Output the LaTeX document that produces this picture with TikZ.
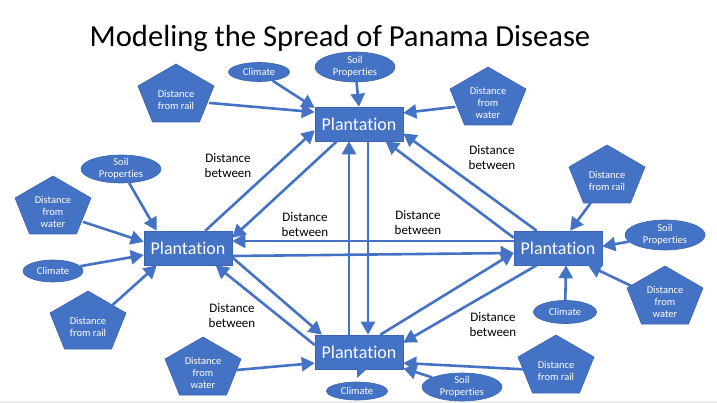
\documentclass[tikz,border=0pt]{standalone}
\usepackage{fontspec}
\setmainfont{Carlito}[Ligatures={NoCommon,NoContextual}]
\usetikzlibrary{arrows.meta,calc,shapes.geometric}
\definecolor{pblue}{HTML}{4472C4}
\definecolor{pedge}{HTML}{3A64B0}
\tikzset{
 plant/.style={rectangle, fill=pblue, draw=pedge, line width=0.6pt, minimum width=88pt, minimum height=34pt, inner sep=0pt, text=white, font=\fontsize{18}{20}\selectfont},
 oval/.style={ellipse, fill=pblue, draw=pedge, line width=0.6pt, inner sep=-1.5pt, text=white, align=center, font=\fontsize{10.5}{12}\selectfont},
 pentxt/.style={ellipse, minimum width=66pt, minimum height=46pt, inner sep=0pt, text=white, align=center, font=\fontsize{10.5}{12.3}\selectfont},
 pentfill/.style={fill=pblue, draw=pedge, line width=0.6pt},
 link/.style={draw=pblue, line width=2.6pt, -{Triangle[length=13pt,width=14pt]}},
 dist/.style={align=center, font=\fontsize{13}{15}\selectfont, text=black, inner sep=0pt},
}
\newcommand{\pentshape}[4]{%
  \path[pentfill] (#2,#3-29) -- (#2+38,#3-7) -- (#2+23.5,#3+29) -- (#2-23.5,#3+29) -- (#2-38,#3-7) -- cycle;
  \node[pentxt] (#1) at (#2,#3+7) {#4};
}
\begin{document}
\begin{tikzpicture}[x=1pt,y=-1pt]
\useasboundingbox (0,0) rectangle (717,403);
\fill[white] (0,0) rectangle (717,403);
\fill[gray!15] (0,400.5) rectangle (717,403);

\node[font=\fontsize{30.6}{36}\selectfont, anchor=base, inner sep=0pt] (title) at (340,47) {Modeling the Spread of Panama Disease};

% plantations
\node[plant] (PT) at (359,124) {Plantation};
\node[plant] (PL) at (188,248) {Plantation};
\node[plant] (PR) at (558,248) {Plantation};
\node[plant] (PB) at (359,352) {Plantation};
\path[fill=pblue] (357,368) -- (357,378) -- (368,368) -- cycle;

% top cluster
\node[oval, minimum width=61pt, minimum height=19pt] (climT) at (259,72) {Climate};
\node[oval, minimum width=80pt, minimum height=30pt] (soilT) at (355,67) {Soil\\Properties};
\pentshape{railT}{176}{93}{Distance\\from rail}
\pentshape{waterT}{488}{96}{Distance\\from\\water}

% left cluster
\node[oval, minimum width=80pt, minimum height=28pt] (soilL) at (121,169) {Soil\\Properties};
\pentshape{waterL}{53}{205}{Distance\\from\\water}
\node[oval, minimum width=60pt, minimum height=22pt] (climL) at (53,271) {Climate};
\pentshape{railL}{88}{320}{Distance\\from rail}

% right cluster
\pentshape{railR}{607}{174}{Distance\\from rail}
\node[oval, minimum width=80pt, minimum height=30pt] (soilR) at (665,235) {Soil\\Properties};
\pentshape{waterR}{665}{295}{Distance\\from\\water}
\node[oval, minimum width=63pt, minimum height=23pt] (climR) at (565,312) {Climate};

% bottom cluster
\pentshape{waterB}{203}{366}{Distance\\from\\water}
\node[oval, minimum width=61pt, minimum height=18pt] (climB) at (357,391) {Climate};
\node[oval, minimum width=80pt, minimum height=28pt] (soilB) at (462,387) {Soil\\Properties};
\pentshape{railB}{556}{364}{Distance\\from rail}

% factor arrows
\draw[link] (climT) -- (PT.160);
\draw[link] (railT) -- (PT.165);
\draw[link] (soilT) -- (PT.north);
\draw[link] (waterT) -- (PT.14);
\draw[link] (soilL) -- (PL.151);
\draw[link] (waterL) -- (PL.172);
\draw[link] (climL) -- (PL.189);
\draw[link] (railL) -- (PL.209);
\draw[link] (railR) -- (PR.55);
\draw[link] (soilR) -- (PR.2);
\draw[link] (waterR) -- (PR.330);
\draw[link] (climR) -- (PR.295);
\draw[link] (waterB) -- (PB.194);
\draw[link] (railB) -- (PB.346);
\draw[link] (soilB) -- (PB.340);

% plantation-to-plantation arrows
\draw[link] (PL.45) -- (PT.188);
\draw[link] (PT.218) -- (PL.13);
\draw[link] ($(PB.north)+(-10,0)$) -- ($(PT.south)+(-10,0)$);
\draw[link] ($(PT.south)+(9,0)$) -- ($(PB.north)+(9,0)$);
\draw[link] ($(PR.west)+(0,-7)$) -- ($(PL.east)+(0,-7)$);
\draw[link] ($(PL.east)+(0,8)$) -- ($(PR.west)+(0,5)$);
\draw[link] (PL.348) -- (PB.155);
\draw[link] (PB.171) -- (PL.328);
\draw[link] (PB.39) -- (PR.186);
\draw[link] (PR.219) -- (PB.12);
\draw[link] (PR.141) -- (PT.348);
\draw[link] (PR.167) -- (PT.327);

% labels
\node[dist] (d1) at (228,166) {Distance\\between};
\node[dist] (d2) at (305,225) {Distance\\between};
\node[dist] (d3) at (418,223) {Distance\\between};
\node[dist] (d4) at (492,158) {Distance\\between};
\node[dist] (d5) at (232,316) {Distance\\between};
\node[dist] (d6) at (493,325) {Distance\\between};
\end{tikzpicture}
\end{document}
